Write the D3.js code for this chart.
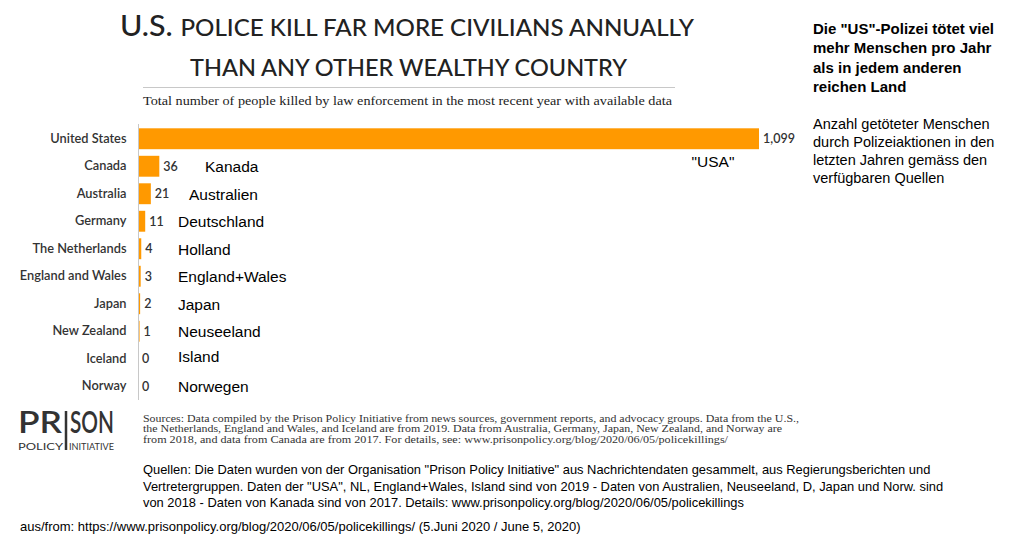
<!DOCTYPE html>
<html>
<head>
<meta charset="utf-8">
<script src="https://cdn.jsdelivr.net/npm/d3@7"></script>
<style>
  body { margin: 0; background: #fff; }
  svg { display: block; }
</style>
</head>
<body>
<svg id="chart"></svg>
<script>
'use strict';

var countries = ["United States", "Canada", "Australia", "Germany", "The Netherlands",
  "England and Wales", "Japan", "New Zealand", "Iceland", "Norway"];
var values = [1099, 36, 21, 11, 4, 3, 2, 1, 0, 0];
var germanNames = ["\"USA\"", "Kanada", "Australien", "Deutschland", "Holland",
  "England+Wales", "Japan", "Neuseeland", "Island", "Norwegen"];

var titleLines = ["POLICE KILL FAR MORE CIVILIANS ANNUALLY", "THAN ANY OTHER WEALTHY COUNTRY"];
var subtitle = "Total number of people killed by law enforcement in the most recent year with available data";
var germanTitle = ["Die \"US\"-Polizei tötet viel", "mehr Menschen pro Jahr", "als in jedem anderen", "reichen Land"];
var germanSub = ["Anzahl getöteter Menschen", "durch Polizeiaktionen in den", "letzten Jahren gemäss den", "verfügbaren Quellen"];
var sources = [
  "Sources: Data compiled by the Prison Policy Initiative from news sources, government reports, and advocacy groups. Data from the U.S.,",
  "the Netherlands, England and Wales, and Iceland are from 2019. Data from Australia, Germany, Japan, New Zealand, and Norway are",
  "from 2018, and data from Canada are from 2017. For details,  see: www.prisonpolicy.org/blog/2020/06/05/policekillings/"
];
var quellen = [
  "Quellen: Die Daten wurden von der Organisation \"Prison Policy Initiative\" aus Nachrichtendaten gesammelt, aus Regierungsberichten und",
  "Vertretergruppen. Daten der \"USA\", NL, England+Wales, Island sind von 2019 - Daten von Australien, Neuseeland, D, Japan und Norw. sind",
  "von 2018 - Daten von Kanada sind von 2017. Details: www.prisonpolicy.org/blog/2020/06/05/policekillings"
];
var fromLine = "aus/from: https://www.prisonpolicy.org/blog/2020/06/05/policekillings/ (5.Juni 2020 / June 5, 2020)";

var WIDTH = 1033;
var HEIGHT = 546;
var ORANGE = "#ff9900";
var FUTURA = "Lato, 'DejaVu Sans', sans-serif";
var ARIAL = "'Liberation Sans', Arial, sans-serif";
var SERIF = "'Liberation Serif', 'DejaVu Serif', serif";

// where the german labels sit, next to each row
var germanX = [713, 205, 189, 178, 178, 178, 178, 178, 178, 178];
var germanDy = [22, 0, 0, 0, 0, 0, 0, 0, -3, 0];
// widths of the english source lines
var sourceWidths = [656, 639, 585];

var svg = d3.select("#chart").attr("width", WIDTH).attr("height", HEIGHT);

// title
var t1 = svg.append("text")
  .attr("x", 120).attr("y", 36)
  .attr("font-family", FUTURA).attr("font-weight", 500)
  .attr("fill", "#222")
  .attr("textLength", 574).attr("lengthAdjust", "spacingAndGlyphs");
t1.append("tspan").attr("font-size", 29).text("U.S. ");
t1.append("tspan").attr("font-size", 23).text(titleLines[0]);

svg.append("text")
  .attr("x", 190).attr("y", 76)
  .attr("font-family", FUTURA).attr("font-weight", 500)
  .attr("font-size", 23).attr("fill", "#222")
  .attr("textLength", 437).attr("lengthAdjust", "spacingAndGlyphs")
  .text(titleLines[1]);

svg.append("line")
  .attr("x1", 143).attr("x2", 675).attr("y1", 87.5).attr("y2", 87.5)
  .attr("stroke", "#c8c8c8").attr("stroke-width", 1);

svg.append("text")
  .attr("x", 143).attr("y", 105)
  .attr("font-family", SERIF).attr("font-size", 13).attr("fill", "#222")
  .attr("textLength", 529).attr("lengthAdjust", "spacingAndGlyphs")
  .text(subtitle);

// bar chart
var x = d3.scaleLinear().domain([0, 1099]).range([139, 759]);
var y = d3.scaleBand().domain(countries).range([125, 400]).paddingInner(0.24).paddingOuter(0.12);

var yAxis = d3.axisLeft(y).tickSize(0).tickPadding(12);
var gAxis = svg.append("g").attr("transform", "translate(138.5,0)").call(yAxis);
gAxis.select(".domain").attr("stroke", "#c8c8c8").attr("d", "M0,124V400");
gAxis.selectAll("text")
  .attr("font-family", FUTURA).attr("font-size", 12.8).attr("font-weight", 600)
  .attr("fill", "#333");

svg.selectAll("rect.bar")
  .data(values)
  .enter().append("rect")
  .attr("class", "bar")
  .attr("x", 139)
  .attr("y", function(d, i){ return y(countries[i]); })
  .attr("width", function(d){ return x(d) - 139; })
  .attr("height", y.bandwidth())
  .attr("fill", ORANGE);

svg.selectAll("text.val")
  .data(values)
  .enter().append("text")
  .attr("class", "val")
  .attr("x", function(d){ return x(d) + (d > 0 ? 4 : 3); })
  .attr("y", function(d, i){ return y(countries[i]) + y.bandwidth() / 2 + 4.5; })
  .attr("font-family", FUTURA).attr("font-size", 12.5).attr("font-weight", 600)
  .attr("fill", "#333")
  .text(function(d){ return d3.format(",")(d); });

svg.selectAll("text.de")
  .data(germanNames)
  .enter().append("text")
  .attr("class", "de")
  .attr("x", function(d, i){ return germanX[i]; })
  .attr("y", function(d, i){ return y(countries[i]) + y.bandwidth() / 2 + 6 + germanDy[i]; })
  .attr("text-anchor", function(d, i){ return i === 0 ? "middle" : "start"; })
  .attr("font-family", ARIAL).attr("font-size", 15.5).attr("fill", "#000")
  .text(function(d){ return d; });

// german heading on the right
svg.append("g").selectAll("text")
  .data(germanTitle)
  .enter().append("text")
  .attr("x", 813).attr("y", function(d, i){ return 34 + i * 19.3; })
  .attr("font-family", ARIAL).attr("font-weight", "bold").attr("font-size", 15)
  .attr("fill", "#000")
  .text(function(d){ return d; });

svg.append("g").selectAll("text")
  .data(germanSub)
  .enter().append("text")
  .attr("x", 813).attr("y", function(d, i){ return 129 + i * 18; })
  .attr("font-family", ARIAL).attr("font-size", 14.5)
  .attr("fill", "#000")
  .text(function(d){ return d; });

// logo
var logo = svg.append("g").attr("fill", "#333");
logo.append("text").attr("x", 18).attr("y", 433)
  .attr("font-family", FUTURA).attr("font-weight", 600).attr("font-size", 31)
  .attr("textLength", 44).attr("lengthAdjust", "spacingAndGlyphs").text("PR");
logo.append("text").attr("x", 70).attr("y", 433)
  .attr("font-family", FUTURA).attr("font-weight", 600).attr("font-size", 31)
  .attr("textLength", 44).attr("lengthAdjust", "spacingAndGlyphs").text("SON");
logo.append("line").attr("x1", 66).attr("x2", 66).attr("y1", 411).attr("y2", 450)
  .attr("stroke", "#333").attr("stroke-width", 2.5);
logo.append("text").attr("x", 18).attr("y", 450)
  .attr("font-family", FUTURA).attr("font-size", 10)
  .attr("textLength", 45).attr("lengthAdjust", "spacingAndGlyphs").text("POLICY");
logo.append("text").attr("x", 69).attr("y", 450)
  .attr("font-family", FUTURA).attr("font-size", 10)
  .attr("textLength", 45).attr("lengthAdjust", "spacingAndGlyphs").text("INITIATIVE");

// footnotes
svg.append("g").selectAll("text")
  .data(sources)
  .enter().append("text")
  .attr("x", 143).attr("y", function(d, i){ return 421.5 + i * 10.6; })
  .attr("font-family", SERIF).attr("font-size", 10.6).attr("fill", "#333")
  .attr("textLength", function(d, i){ return sourceWidths[i]; })
  .attr("lengthAdjust", "spacingAndGlyphs")
  .text(function(d){ return d; });

svg.append("g").selectAll("text")
  .data(quellen)
  .enter().append("text")
  .attr("x", 143).attr("y", function(d, i){ return 474 + i * 16.5; })
  .attr("font-family", ARIAL).attr("font-size", 12.9).attr("fill", "#000")
  .text(function(d){ return d; });

svg.append("text")
  .attr("x", 20).attr("y", 531)
  .attr("font-family", ARIAL).attr("font-size", 13).attr("fill", "#000")
  .text(fromLine);
</script>
</body>
</html>
